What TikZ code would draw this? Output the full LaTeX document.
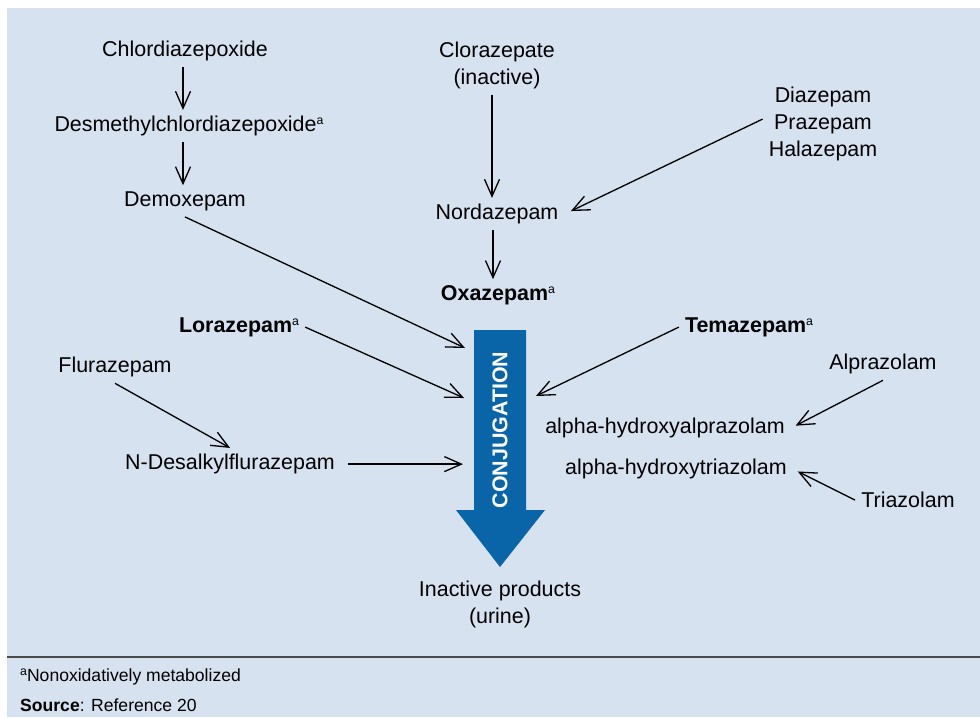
\documentclass[tikz,border=0pt]{standalone}
\usepackage{fontspec}
\setmainfont{Liberation Sans}
\usepackage{tikz}
\usetikzlibrary{
  arrows.meta,
  positioning
}
\definecolor{panel}{HTML}{D6E2F0}
\definecolor{conjblue}{HTML}{0A64A8}
\definecolor{rulegray}{HTML}{4A4A4A}
\colorlet{ink}{black}
\newcommand{\fnmark}{\raisebox{0.62ex}{\normalfont\fontsize{7}{8}\selectfont a}}
\tikzset{
  drug/.style={font=\fontsize{12.2}{15.5}\selectfont, align=center, text=ink,
    yshift=-1.2pt},
  key drug/.style={drug, font=\fontsize{12.2}{15.5}\selectfont\bfseries},
  note/.style={font=\fontsize{10}{12}\selectfont, anchor=west},
  conv/.style={draw=ink, line width=0.75pt,
    -{Straight Barb[length=3.4mm, width=3mm, line width=0.75pt]}},
}

\begin{document}
\begin{tikzpicture}[x=0.02cm, y=-0.02cm]
\useasboundingbox (0,0) rectangle (980,717);
\fill[panel] (7,8) rectangle (980,717);
\draw[rulegray, line width=0.8pt] (7,657) -- (980,657);

% conjugation arrow
\fill[conjblue] (474,330) -- (526,330) -- (526,510) -- (545,510)
  -- (500,567) -- (456,510) -- (474,510) -- cycle;
\node[rotate=90, text=white, font=\fontsize{12.2}{14}\selectfont\bfseries]
  (conj) at (500,430) {CONJUGATION};
\coordinate (c1) at (465,348);
\coordinate (c2) at (464,398);
\coordinate (c3) at (536,396);
\coordinate (c4) at (463,461);

% left column
\node[drug] (chlor) at (185,49) {Chlordiazepoxide};
\node[drug] (desm) at (189,124) {Desmethylchlordiazepoxide\fnmark};
\node[drug] (demox) at (185,199) {Demoxepam};
\draw[conv] (chlor.south -| 183,0) -- (desm.north -| 183,0);
\draw[conv] (desm.south -| 183,0) -- (demox.north -| 183,0);

% middle column
\node[drug] (cloraz) at (497,63) {Clorazepate\\(inactive)};
\node[drug] (nord) at (497,212) {Nordazepam};
\node[key drug] (oxaz) at (498,293) {Oxazepam\fnmark};
\node[drug] (diaz) at (823,122) {Diazepam\\Prazepam\\Halazepam};
\draw[conv] (cloraz.south -| 492,0) -- (nord.north -| 492,0);
\draw[conv] (nord.south -| 493,0) -- (oxaz.north -| 493,0);
\draw[conv, shorten >=4pt] (diaz.west) ++(0,-5) -- (nord.east);

% into conjugation
\node[key drug] (lora) at (239,325) {Lorazepam\fnmark};
\node[key drug] (tema) at (749,325) {Temazepam\fnmark};
\node[drug] (flur) at (115,365) {Flurazepam};
\node[drug] (ndes) at (230,462) {N-Desalkylflurazepam};
\draw[conv] (demox.south) -- (c1);
\draw[conv] (lora.east) -- (c2);
\draw[conv] (tema.west) -- (c3);
\draw[conv] (flur.south) -- (ndes.north);
\draw[conv, shorten <=4pt] (ndes.east) -- (ndes.east -| c4);

% right side
\node[drug] (alpr) at (883,362) {Alprazolam};
\node[drug] (hyalp) at (665,426) {alpha-hydroxyalprazolam};
\node[drug] (hytri) at (676,467) {alpha-hydroxytriazolam};
\node[drug] (tria) at (908,498) {Triazolam};
\draw[conv, shorten >=3pt] (alpr.south) -- (hyalp.east);
\draw[conv, shorten >=3pt] (tria.west) -- (hytri.east);

\node[drug] (inact) at (500,602) {Inactive products\\(urine)};

% footer
\node[note] (fnote) at (14,677) {\fnmark Nonoxidatively metabolized};
\node[note] (src) at (14,705) {\textbf{Source}: Reference 20};
\end{tikzpicture}
\end{document}
